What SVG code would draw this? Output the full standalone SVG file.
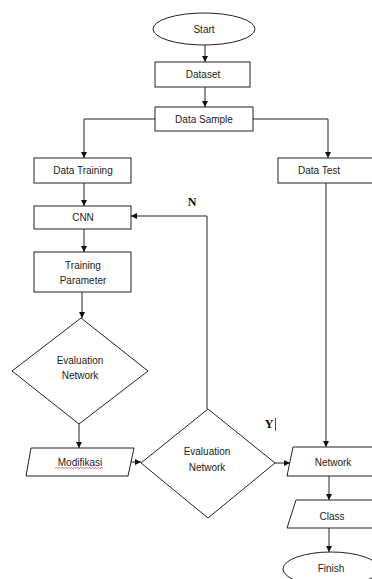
<svg xmlns="http://www.w3.org/2000/svg" width="372" height="579" viewBox="0 0 372 579">
<style>
.s{fill:#fff;stroke:#222;stroke-width:1}
.t{font-family:"Liberation Sans",Arial,sans-serif;font-size:10px;fill:#222;text-anchor:middle}
.l{font-family:"Liberation Serif","Times New Roman",serif;font-size:12px;font-weight:bold;fill:#111;text-anchor:middle}
.c{fill:none;stroke:#222;stroke-width:1}
</style>
<defs>
<marker id="a" viewBox="0 0 10 10" refX="10" refY="5" markerWidth="6" markerHeight="6" orient="auto" markerUnits="userSpaceOnUse">
<path d="M0,0 L10,5 L0,10 z" fill="#111"/>
</marker>
</defs>
<rect width="372" height="579" fill="#fff"/>
<g id="connectors">
<path class="c" d="M205,45 V62" marker-end="url(#a)"/>
<path class="c" d="M205,87 V107" marker-end="url(#a)"/>
<path class="c" d="M155,119 H84 V158" marker-end="url(#a)"/>
<path class="c" d="M253,119 H328 V158" marker-end="url(#a)"/>
<path class="c" d="M84,183 V206" marker-end="url(#a)"/>
<path class="c" d="M84,229 V252" marker-end="url(#a)"/>
<path class="c" d="M82,292 V318" marker-end="url(#a)"/>
<path class="c" d="M79,424 V448" marker-end="url(#a)"/>
<path class="c" d="M131,462 H141" marker-end="url(#a)"/>
<path class="c" d="M207,409 V216 H131" marker-end="url(#a)"/>
<path class="c" d="M275,463 H290" marker-end="url(#a)"/>
<path class="c" d="M326,183 V447" marker-end="url(#a)"/>
<path class="c" d="M329,476 V500" marker-end="url(#a)"/>
<path class="c" d="M329,528 V552" marker-end="url(#a)"/>
</g>
<g id="start"><ellipse class="s" cx="204" cy="29" rx="51" ry="16"/><text class="t" x="204" y="32.5">Start</text></g>
<g id="dataset"><rect class="s" x="155" y="62" width="95" height="25"/><text class="t" x="203" y="78">Dataset</text></g>
<g id="datasample"><rect class="s" x="155" y="107" width="98" height="24"/><text class="t" x="204" y="122.5">Data Sample</text></g>
<g id="datatraining"><rect class="s" x="34" y="158" width="97" height="25"/><text class="t" x="83" y="174">Data Training</text></g>
<g id="datatest"><rect class="s" x="278" y="158" width="100" height="25"/><text class="t" x="319" y="174">Data Test</text></g>
<g id="cnn"><rect class="s" x="34" y="206" width="97" height="23"/><text class="t" x="83" y="221">CNN</text></g>
<g id="trainingparam"><rect class="s" x="34" y="252" width="97" height="40"/><text class="t" x="83" y="268.5">Training</text><text class="t" x="83" y="283.5">Parameter</text></g>
<g id="eval1"><polygon class="s" points="81,318 148,371 79,424 12,371"/><text class="t" x="80" y="363.5">Evaluation</text><text class="t" x="80" y="378.5">Network</text></g>
<g id="modifikasi"><polygon class="s" points="31,448 134,448 128,476 26,476"/><text class="t" x="80" y="466">Modifikasi</text><path d="M55,468.5 l1.5,-1 l1.5,1 l1.5,-1 l1.5,1 l1.5,-1 l1.5,1 l1.5,-1 l1.5,1 l1.5,-1 l1.5,1 l1.5,-1 l1.5,1 l1.5,-1 l1.5,1 l1.5,-1 l1.5,1 l1.5,-1 l1.5,1 l1.5,-1 l1.5,1 l1.5,-1 l1.5,1 l1.5,-1 l1.5,1 l1.5,-1 l1.5,1 l1.5,-1 l1.5,1 l1.5,-1 l1.5,1 l1.5,-1 l1.5,1" fill="none" stroke="#d33" stroke-width="0.7"/></g>
<g id="eval2"><polygon class="s" points="208,409 275,463 208,518 141,463"/><text class="t" x="207" y="454.5">Evaluation</text><text class="t" x="207" y="470.5">Network</text></g>
<g id="network"><polygon class="s" points="293,447 380,447 374,476 287,476"/><text class="t" x="333" y="466">Network</text></g>
<g id="class"><polygon class="s" points="296,500 380,500 374,528 287,528"/><text class="t" x="332" y="519.5">Class</text></g>
<g id="finish"><ellipse class="s" cx="331" cy="569" rx="48" ry="17"/><text class="t" x="331" y="572">Finish</text></g>
<g id="labels"><text class="l" x="192" y="206">N</text><text class="l" x="269" y="428">Y</text><line x1="275.5" y1="418" x2="275.5" y2="431" stroke="#222" stroke-width="0.8"/></g>
</svg>
